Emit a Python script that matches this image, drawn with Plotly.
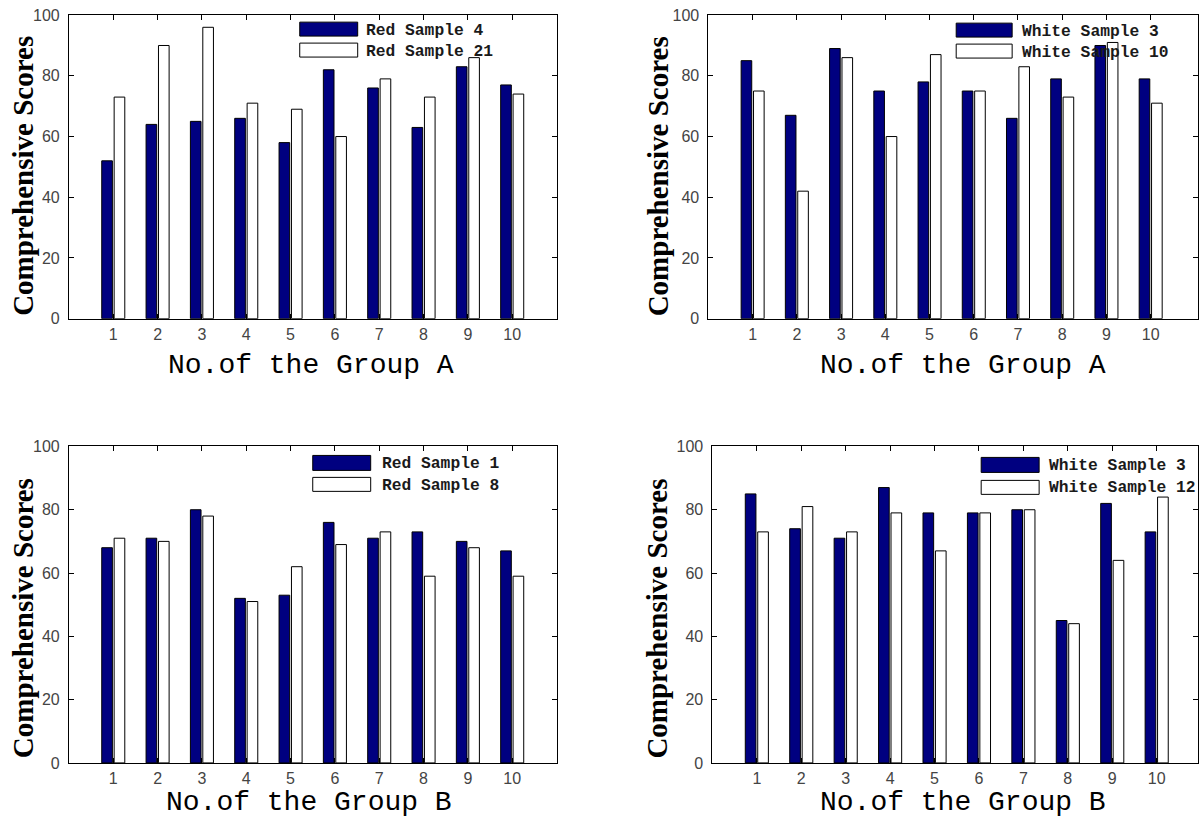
import plotly.graph_objects as go

# ---------------- data ----------------
groups = [1, 2, 3, 4, 5, 6, 7, 8, 9, 10]

red_sample_4 = [52, 64, 65, 66, 58, 82, 76, 63, 83, 77]
red_sample_21 = [73, 90, 96, 71, 69, 60, 79, 73, 86, 74]

white_sample_3_a = [85, 67, 89, 75, 78, 75, 66, 79, 90, 79]
white_sample_10 = [75, 42, 86, 60, 87, 75, 83, 73, 91, 71]

red_sample_1 = [68, 71, 80, 52, 53, 76, 71, 73, 70, 67]
red_sample_8 = [71, 70, 78, 51, 62, 69, 73, 59, 68, 59]

white_sample_3_b = [85, 74, 71, 87, 79, 79, 80, 45, 82, 73]
white_sample_12 = [73, 81, 73, 79, 67, 79, 80, 44, 64, 84]

y_ticks = [0, 20, 40, 60, 80, 100]
y_title = "Comprehensive Scores"
x_title_a = "No.of the Group A"
x_title_b = "No.of the Group B"

# ---------------- layout helpers ----------------
W, H = 1199, 818
DARK = "#000080"


def fx(p):
    return p / W


def fy(p):
    # vertical pixel target -> paper fraction (compensates for page framing)
    q = p * 834.0 / 818.0 - 8.0
    return 1 - q / H


panels = [
    dict(s1=red_sample_4, s2=red_sample_21, n1="Red Sample 4", n2="Red Sample 21",
         xdom=(69, 557), ydom=(15, 319), xr=[0, 11], xt=x_title_a,
         xt_pos=(311, 366), yt_pos=(23, 176), xt_size=28,
         leg=dict(px0=300, px1=358, d=(22, 36), w=(43, 57), tx=364, ty=(30, 51))),
    dict(s1=white_sample_3_a, s2=white_sample_10, n1="White Sample 3", n2="White Sample 10",
         xdom=(709, 1199), ydom=(15, 319), xr=[0, 11.07], xt=x_title_a,
         xt_pos=(964, 366), yt_pos=(658, 176), xt_size=28,
         leg=dict(px0=957, px1=1013, d=(23, 37), w=(44, 58), tx=1021, ty=(31, 52))),
    dict(s1=red_sample_1, s2=red_sample_8, n1="Red Sample 1", n2="Red Sample 8",
         xdom=(69, 557), ydom=(447, 764), xr=[0, 11], xt=x_title_b,
         xt_pos=(309, 804), yt_pos=(23, 619), xt_size=28,
         leg=dict(px0=313, px1=371, d=(456, 471), w=(478, 492), tx=380, ty=(464, 486))),
    dict(s1=white_sample_3_b, s2=white_sample_12, n1="White Sample 3", n2="White Sample 12",
         xdom=(713, 1199), ydom=(447, 764), xr=[0, 10.93], xt=x_title_b,
         xt_pos=(964, 804), yt_pos=(658, 619), xt_size=28,
         leg=dict(px0=982, px1=1040, d=(458, 473), w=(481, 495), tx=1048, ty=(466, 488))),
]

fig = go.Figure()
shapes = []
annotations = []
layout_axes = {}

tick_font = dict(family="Liberation Sans, Arial, sans-serif", size=16, color="#444444")

for i, p in enumerate(panels):
    k = "" if i == 0 else str(i + 1)
    xa, ya = "x" + k, "y" + k
    fig.add_trace(go.Bar(
        x=groups, y=p["s1"], name=p["n1"], xaxis=xa, yaxis=ya,
        width=0.24, offset=-0.26,
        marker=dict(color=DARK, line=dict(color="black", width=1)),
        showlegend=False,
    ))
    fig.add_trace(go.Bar(
        x=groups, y=p["s2"], name=p["n2"], xaxis=xa, yaxis=ya,
        width=0.24, offset=0.02,
        marker=dict(color="white", line=dict(color="black", width=1)),
        showlegend=False,
    ))
    layout_axes["xaxis" + k] = dict(
        domain=[fx(p["xdom"][0]), fx(p["xdom"][1])], anchor=ya, range=p["xr"],
        tickmode="array", tickvals=groups, ticktext=[str(g) for g in groups],
        ticks="inside", ticklen=5, tickcolor="black", showline=True, linecolor="black",
        linewidth=1, mirror="ticks", showgrid=False, zeroline=False,
        tickfont=tick_font, ticklabelstandoff=1,
    )
    layout_axes["yaxis" + k] = dict(
        domain=[fy(p["ydom"][1]), fy(p["ydom"][0])], anchor=xa, range=[0, 100],
        tickmode="array", tickvals=y_ticks, ticks="inside", ticklen=5, tickcolor="black",
        showline=True, linecolor="black", linewidth=1, mirror="ticks",
        showgrid=False, zeroline=False, tickfont=tick_font, ticklabelstandoff=5,
    )
    # axis titles
    annotations.append(dict(
        text=p["xt"], x=fx(p["xt_pos"][0]), y=fy(p["xt_pos"][1]), xref="paper", yref="paper",
        showarrow=False, xanchor="center", yanchor="middle",
        font=dict(family="Liberation Mono, monospace", size=p["xt_size"], color="black"),
    ))
    annotations.append(dict(
        text="<b>" + y_title + "</b>", x=fx(p["yt_pos"][0]), y=fy(p["yt_pos"][1]),
        xref="paper", yref="paper", showarrow=False, textangle=-90,
        xanchor="center", yanchor="middle",
        font=dict(family="Liberation Serif, Times New Roman, serif", size=29, color="black"),
    ))
    # legend patches and labels
    lg = p["leg"]
    for (y0, y1), fill, name, ty in ((lg["d"], DARK, p["n1"], lg["ty"][0]),
                                     (lg["w"], "white", p["n2"], lg["ty"][1])):
        shapes.append(dict(type="rect", xref="paper", yref="paper",
                           x0=fx(lg["px0"]), x1=fx(lg["px1"]), y0=fy(y1), y1=fy(y0),
                           fillcolor=fill, line=dict(color="black", width=1)))
        annotations.append(dict(
            text="<b>" + name + "</b>", x=fx(lg["tx"]), y=fy(ty), xref="paper", yref="paper",
            showarrow=False, xanchor="left", yanchor="middle",
            font=dict(family="Liberation Mono, monospace", size=16.3, color="#1a1a1a"),
        ))

fig.update_layout(
    width=W, height=H, margin=dict(l=0, r=0, t=0, b=0),
    paper_bgcolor="white", plot_bgcolor="white",
    barmode="overlay", showlegend=False,
    shapes=shapes, annotations=annotations,
    **layout_axes,
)

fig.write_html("out.html", config={"displayModeBar": False},
               post_script="document.body.style.margin='0';")
